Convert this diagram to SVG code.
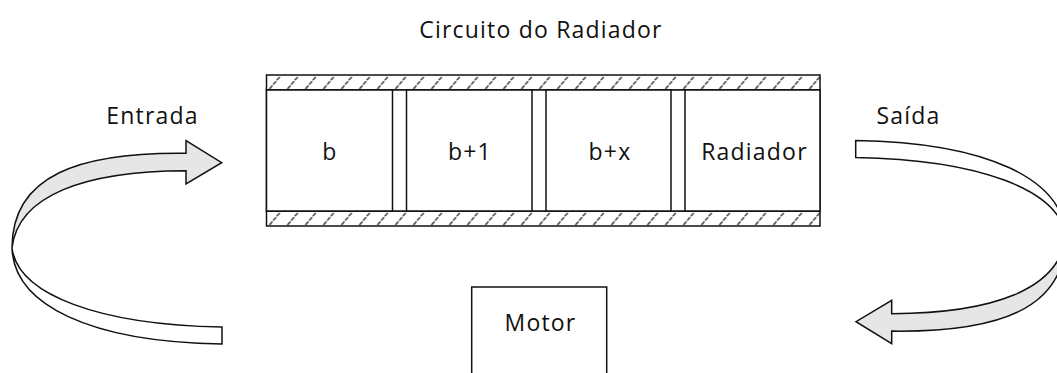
<svg xmlns="http://www.w3.org/2000/svg" width="1057" height="373" viewBox="0 0 1057 373">
<defs>
<style>
.t{font-family:"Open Sans","Liberation Sans",sans-serif;font-size:23px;letter-spacing:1.2px;fill:#111;text-anchor:middle}
.box{fill:#fff;stroke:#111;stroke-width:1.5}
.front{fill:#e6e6e6;stroke:#111;stroke-width:1.5;stroke-linejoin:miter}
.back{fill:#fff;stroke:#111;stroke-width:1.5}
</style>
<pattern id="hatch" patternUnits="userSpaceOnUse" x="266.5" y="75" width="18" height="15">
<path d="M3,14 L14,1" stroke="#333" stroke-width="1.4" stroke-dasharray="4.5 1.2"/>
</pattern>
<pattern id="hatch2" patternUnits="userSpaceOnUse" x="266.5" y="211" width="18" height="15">
<path d="M3,14 L14,1" stroke="#333" stroke-width="1.4" stroke-dasharray="4.5 1.2"/>
</pattern>
<g id="curvedArrow">
<path class="back" d="M12,248 C14,305 90,342 222,344 L222,327 C100,325 18,295 12,248 Z"/>
<path class="front" d="M12,248 C12,175 80,152 186,153.3 L186,140.7 L221.7,162.7 L186,184 L186,170.7 C85,171 18,195 12,248 Z"/>
</g>
</defs>
<text class="t" x="541" y="38">Circuito do Radiador</text>
<g id="pipe">
<rect x="266.5" y="75" width="553.5" height="15" fill="url(#hatch)" stroke="#111" stroke-width="1.5"/>
<rect x="266.5" y="211" width="553.5" height="15" fill="url(#hatch2)" stroke="#111" stroke-width="1.5"/>
<rect x="266.5" y="90" width="553.5" height="121" fill="#fff" stroke="#111" stroke-width="1.5"/>
</g>
<g id="cell-b">
<rect class="box" x="266.5" y="90" width="126" height="121"/>
<text class="t" x="330" y="160">b</text>
</g>
<g id="cell-b1">
<rect class="box" x="406.5" y="90" width="125.5" height="121"/>
<text class="t" x="470" y="160">b+1</text>
</g>
<g id="cell-bx">
<rect class="box" x="546" y="90" width="125" height="121"/>
<text class="t" x="610" y="160">b+x</text>
</g>
<g id="cell-radiador">
<rect class="box" x="685" y="90" width="135" height="121"/>
<text class="t" x="754.5" y="160">Radiador</text>
</g>
<g id="motor">
<rect class="box" x="471.7" y="287" width="135" height="100"/>
<text class="t" x="540.5" y="331">Motor</text>
</g>
<g id="connectors">
<use href="#curvedArrow"/>
<use href="#curvedArrow" transform="rotate(180 538.85 242.2)"/>
</g>
<g id="labels">
<text class="t" x="152.5" y="124">Entrada</text>
<text class="t" x="908.5" y="124">Saída</text>
</g>
</svg>
